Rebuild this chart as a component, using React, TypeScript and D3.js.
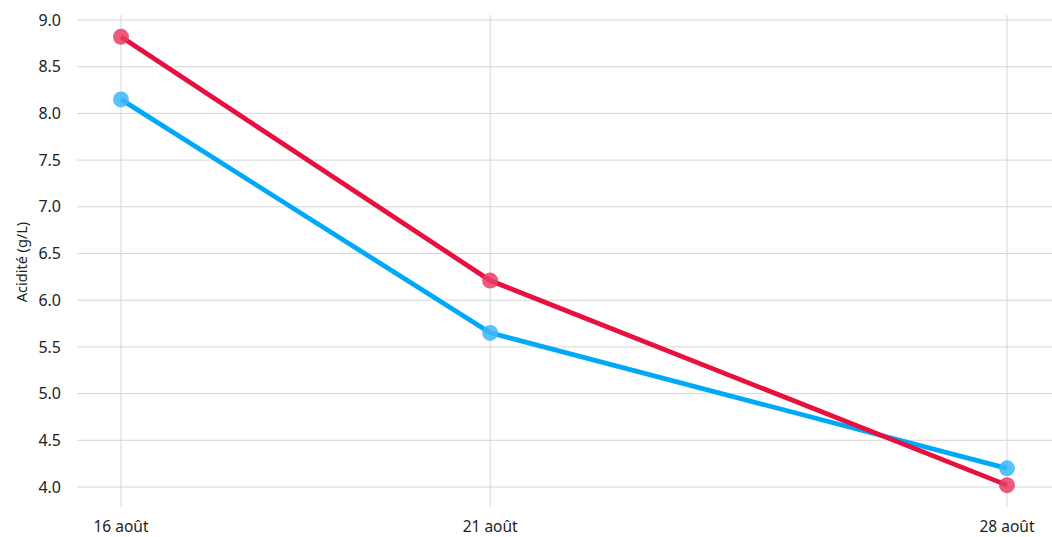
import React from "react";
import * as d3 from "d3";

const dates = ["2023-08-16", "2023-08-21", "2023-08-28"];
const dateLabels = ["16 août", "21 août", "28 août"];
const redValues = [8.82, 6.21, 4.02];
const blueValues = [8.15, 5.65, 4.2];
const yTicks = [4.0, 4.5, 5.0, 5.5, 6.0, 6.5, 7.0, 7.5, 8.0, 8.5, 9.0];
const yTitle = "Acidité (g/L)";

const W = 1052;
const H = 537;
const FONT = "'Noto Sans', 'Open Sans', sans-serif";

export default function App() {
  const parse = d3.utcParse("%Y-%m-%d");
  const parsed = dates.map((d) => parse(d) as Date);
  const x = d3.scaleUtc().domain([parsed[0], parsed[2]]).range([121, 1007]);
  const y = d3.scaleLinear().domain([4, 9]).range([487, 20]);

  const series = [
    { values: blueValues, color: "#00a9f8", dot: "#3bb9f9" },
    { values: redValues, color: "#e8103f", dot: "#ea3d63" },
  ];
  const line = d3
    .line<number>()
    .x((_, i) => x(parsed[i]))
    .y((v) => y(v));

  return (
    <svg
      width={W}
      height={H}
      style={{ position: "absolute", left: 0, top: 0, fontFamily: FONT }}
    >
      <rect width={W} height={H} fill="#fff" />
      {yTicks.map((t) => (
        <g key={t}>
          <line x1={77} x2={1052} y1={y(t)} y2={y(t)} stroke="#d6d6d6" strokeWidth={1} />
          <text x={61} y={y(t)} dy="0.35em" textAnchor="end" fontSize={16} fill="#222">
            {t.toFixed(1)}
          </text>
        </g>
      ))}
      {parsed.map((d, i) => (
        <g key={i}>
          <line x1={x(d)} x2={x(d)} y1={15} y2={507} stroke="#d6d6d6" strokeWidth={1} />
          <text x={x(d)} y={532} textAnchor="middle" fontSize={15.5} fill="#222">
            {dateLabels[i]}
          </text>
        </g>
      ))}
      <text
        transform={`translate(22,262) rotate(-90)`}
        textAnchor="middle"
        dy="0.35em"
        fontSize={14.5}
        fill="#222"
      >
        {yTitle}
      </text>
      {series.map((s, si) => (
        <g key={si}>
          <path d={line(s.values) || ""} fill="none" stroke={s.color} strokeWidth={4.8} />
          {s.values.map((v, i) => (
            <circle key={i} cx={x(parsed[i])} cy={y(v)} r={8} fill={s.dot} fillOpacity={0.85} />
          ))}
        </g>
      ))}
    </svg>
  );
}
